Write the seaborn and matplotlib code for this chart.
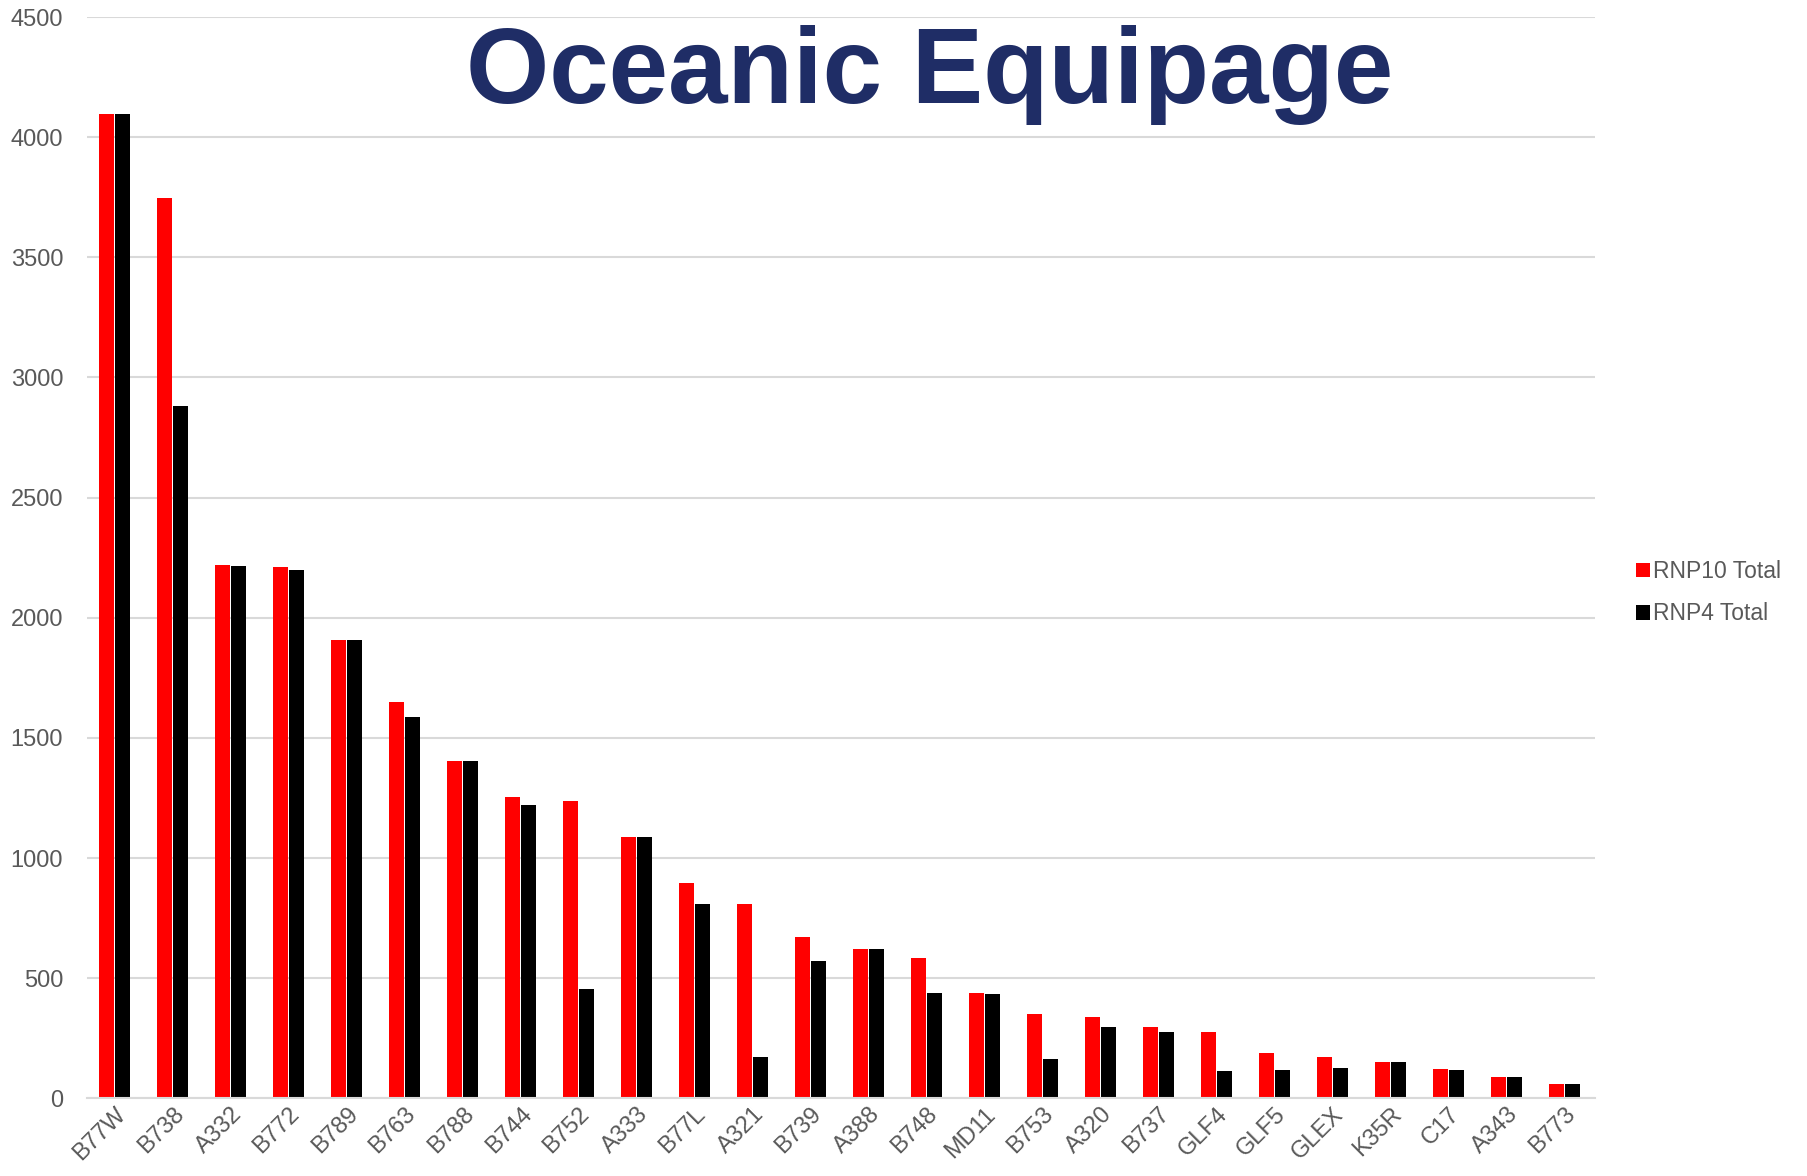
import pandas as pd
import matplotlib.pyplot as plt
import seaborn as sns

# Aircraft types and counts
aircraft = ["B77W", "B738", "A332", "B772", "B789", "B763", "B788", "B744", "B752",
            "A333", "B77L", "A321", "B739", "A388", "B748", "MD11", "B753", "A320",
            "B737", "GLF4", "GLF5", "GLEX", "K35R", "C17", "A343", "B773"]
rnp10_total = [4095, 3745, 2219, 2210, 1907, 1650, 1405, 1253, 1236,
               1089, 897, 808, 671, 622, 583, 439, 351, 340,
               296, 276, 190, 172, 153, 122, 88, 59]
rnp4_total = [4095, 2882, 2217, 2200, 1907, 1589, 1405, 1222, 455,
              1089, 811, 172, 572, 622, 438, 435, 165, 296,
              275, 115, 117, 128, 153, 118, 88, 59]
series = ["RNP10 Total", "RNP4 Total"]
y_ticks = [0, 500, 1000, 1500, 2000, 2500, 3000, 3500, 4000, 4500]

df = pd.DataFrame({
    "Aircraft": aircraft * 2,
    "Count": rnp10_total + rnp4_total,
    "Series": [series[0]] * len(aircraft) + [series[1]] * len(aircraft),
})

sns.set_style("white")
plt.rcParams["font.family"] = ["Liberation Sans", "DejaVu Sans"]

fig = plt.figure(figsize=(18.08, 11.76), dpi=100)
ax = fig.add_axes([0.048, 0.066, 0.834, 0.9195])

sns.barplot(data=df, x="Aircraft", y="Count", hue="Series", order=aircraft,
            hue_order=series, palette={"RNP10 Total": "#FF0000", "RNP4 Total": "#000000"},
            saturation=1, width=0.55, gap=0.08, linewidth=0, ax=ax, legend=True)

ax.set_ylim(0, 4500)
ax.set_yticks(y_ticks)
ax.set_xlim(-0.48, len(aircraft) - 0.48)
ax.yaxis.grid(True, color="#D9D9D9", linewidth=1.5)
ax.set_axisbelow(True)
for s in ["top", "right", "left"]:
    ax.spines[s].set_visible(False)
ax.spines["bottom"].set_color("#D9D9D9")
ax.spines["bottom"].set_linewidth(1.5)
ax.tick_params(axis="both", length=0, labelsize=17, labelcolor="#595959")
ax.tick_params(axis="y", pad=17)
plt.setp(ax.get_xticklabels(), rotation=45, ha="right", rotation_mode="anchor")
ax.set_xlabel("")
ax.set_ylabel("")

# Title sits inside the plot area
fig.text(0.514, 0.936, "Oceanic Equipage", ha="center", va="center",
         fontsize=77, fontweight="bold", color="#1F2D66")

handles, labels = ax.get_legend_handles_labels()
ax.legend(handles, labels, loc="center left", bbox_to_anchor=(0.905, 0.496),
          bbox_transform=fig.transFigure, frameon=False, fontsize=16.5,
          labelcolor="#595959", handlelength=0.6, handleheight=0.6,
          handletextpad=0.15, labelspacing=0.85, borderpad=0, borderaxespad=0)

plt.savefig("out.png", dpi=100)
plt.close()
